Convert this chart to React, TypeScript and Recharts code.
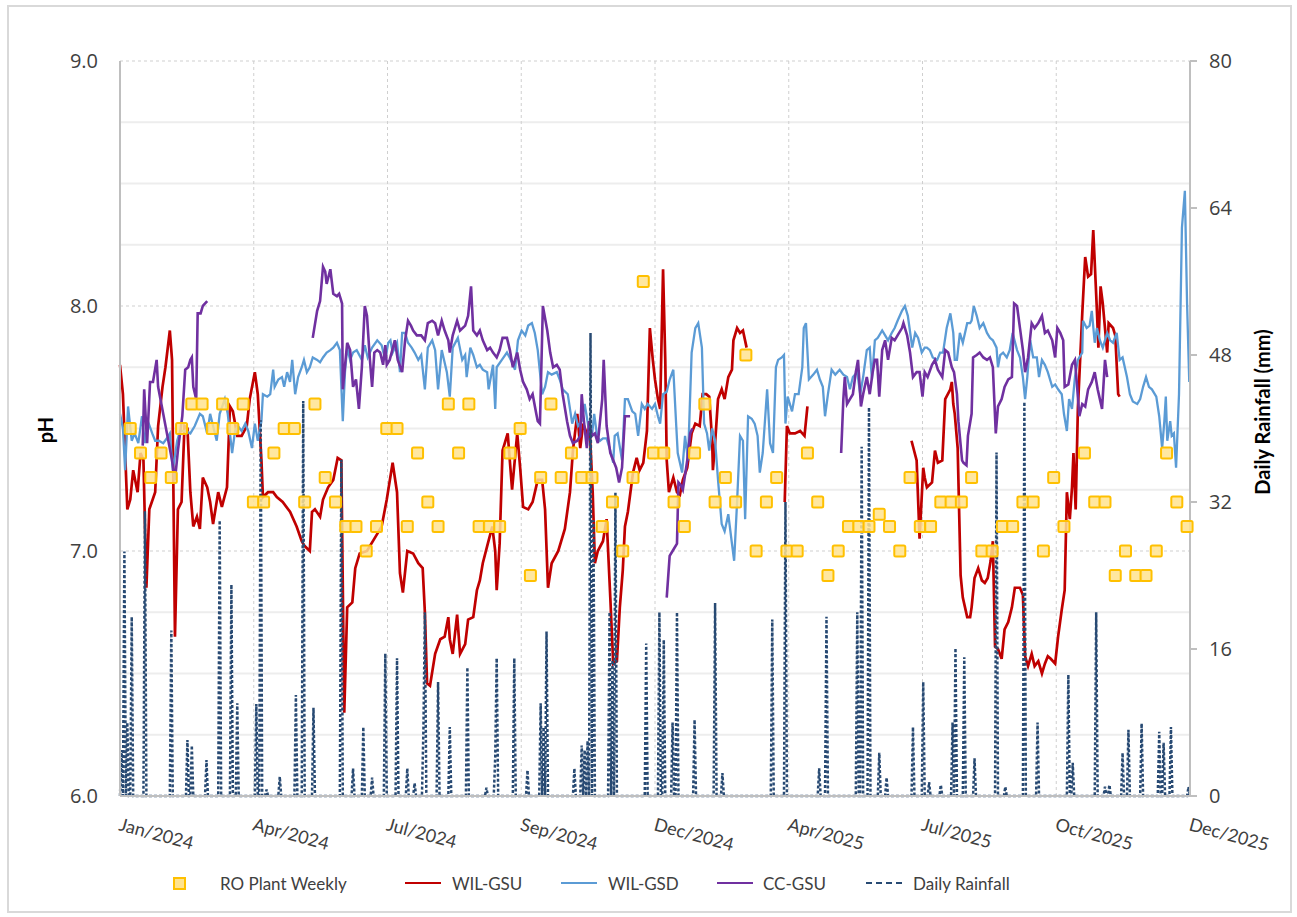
import React from "react";
import { ComposedChart, Line, Scatter, XAxis, YAxis, CartesianGrid } from "recharts";

// x axis is days since 1 Jan 2024
const xTicks = [0, 91.25, 182.5, 273.75, 365, 456.25, 547.5, 638.75, 730];
const xLabels = ["Jan/2024", "Apr/2024", "Jul/2024", "Sep/2024", "Dec/2024", "Apr/2025", "Jul/2025", "Oct/2025", "Dec/2025"];
const phTicks = [6, 7, 8, 9];
const phMinor = [6.25, 6.5, 6.75, 7.25, 7.5, 7.75, 8.25, 8.5, 8.75];
const rainTicks = [0, 16, 32, 48, 64, 80];

// RO plant weekly samples, first on day 7 then every 7 days
const roStartDay = 7;
const roValues: (number | null)[] = [
  7.5, 7.4, 7.3, 7.4, 7.3, 7.5, 7.6, 7.6, 7.5, 7.6,
  7.5, 7.6, 7.2, 7.2, 7.4, 7.5, 7.5, 7.2, 7.6, 7.3,
  7.2, 7.1, 7.1, 7.0, 7.1, 7.5, 7.5, 7.1, 7.4, 7.2,
  7.1, 7.6, 7.4, 7.6, 7.1, 7.1, 7.1, 7.4, 7.5, 6.9,
  7.3, 7.6, 7.3, 7.4, 7.3, 7.3, 7.1, 7.2, 7.0, 7.3,
  8.1, 7.4, 7.4, 7.2, 7.1, 7.4, 7.6, 7.2, 7.3, 7.2,
  7.8, 7.0, 7.2, 7.3, 7.0, 7.0, 7.4, 7.2, 6.9, 7.0,
  7.1, 7.1, 7.1, 7.15, 7.1, 7.0, 7.3, 7.1, 7.1, 7.2,
  7.2, 7.2, 7.3, 7.0, 7.0, 7.1, 7.1, 7.2, 7.2, 7.0,
  7.3, 7.1, null, 7.4, 7.2, 7.2, 6.9, 7.0, 6.9, 6.9,
  7.0, 7.4, 7.2, 7.1,
];

// WIL-GSU  [day, pH]
const wilGsuSeg1: [number, number][] = [
  [0, 7.76], [2, 7.64], [5, 7.17], [7, 7.21], [9, 7.33], [12, 7.24], [14, 7.4], [16, 7.37], [18, 6.85], [20, 7.17],
  [24, 7.24], [26, 7.51], [29, 7.67], [31, 7.75], [34, 7.9], [35.5, 7.78], [37.5, 6.65], [39.5, 7.17], [42, 7.2], [44, 7.51],
  [46, 7.5], [48, 7.24], [50, 7.1], [52.5, 7.14], [54.5, 7.09], [56.5, 7.3], [59.5, 7.26], [61.5, 7.2], [63.5, 7.11], [67, 7.24],
  [69.5, 7.18], [73, 7.26], [75, 7.59], [77, 7.57], [80, 7.47], [83, 7.47], [86.5, 7.51], [88.5, 7.62], [92, 7.73], [94, 7.64],
  [96.5, 7.37], [97.5, 7.22], [101, 7.24], [104.5, 7.24], [107, 7.22], [111, 7.2], [116, 7.16], [120.5, 7.1], [124, 7.04], [126, 7.02],
  [129.5, 7.0], [131, 7.16], [133, 7.17], [136.5, 7.14], [138.5, 7.21], [142, 7.26], [145.5, 7.29], [148.5, 7.38], [151, 7.37], [153, 6.34],
  [155, 6.77], [158.5, 6.79], [160.5, 6.93], [163.5, 6.99], [168.5, 7.0], [175.5, 7.07], [178.5, 7.1], [182, 7.21], [186, 7.36], [189, 7.24],
  [191, 6.91], [193, 6.83], [196, 7.0], [200, 6.99], [203.5, 6.95], [206.5, 6.93], [208, 6.75], [209.5, 6.46], [211.5, 6.45], [215, 6.58],
  [218.5, 6.64], [221.5, 6.65], [224, 6.73], [225, 6.64], [227, 6.58], [230, 6.74], [232, 6.58], [235.5, 6.62], [237.5, 6.72], [241, 6.73],
  [243.5, 6.84], [245.5, 6.88], [247.5, 6.95], [250.5, 7.02], [254, 7.1], [256, 7.0], [257, 6.84], [259, 7.03], [261, 7.41], [264.5, 7.48],
  [267.5, 7.25], [271, 7.48], [273, 7.34], [275, 7.18], [278.5, 7.17], [281.5, 7.2], [285, 7.29], [288, 7.29], [290, 7.17], [292, 6.85],
  [294.5, 6.95], [299, 7.0], [303.5, 7.09], [307, 7.24], [309, 7.41], [312, 7.56], [314, 7.42], [316, 7.52], [318.5, 7.48], [320.5, 7.49],
  [322.5, 7.24], [324, 6.95], [326, 7.0], [329.5, 7.04], [332, 7.13], [334.5, 6.81], [336.5, 6.54], [339, 6.55], [341, 6.77], [343, 6.92],
  [344.5, 7.1], [346.5, 7.16], [350, 7.32], [352.5, 7.38], [354.5, 7.33], [357, 7.36], [359.5, 7.49], [361.5, 7.91], [363.5, 7.78], [365, 7.7],
  [367, 7.62], [368.5, 7.58], [370.5, 8.15], [372, 7.78], [373, 7.37], [374.5, 7.24], [377.5, 7.3], [380, 7.24], [382, 7.23], [384, 7.29],
  [387, 7.34], [390, 7.48], [392.5, 7.52], [395.5, 7.51], [397.5, 7.64], [400, 7.64], [402, 7.63], [404, 7.45], [404.5, 7.33], [406, 7.44],
  [408, 7.62], [410.5, 7.66], [412.5, 7.62], [415, 7.71], [417.5, 7.74], [418.5, 7.86], [421, 7.91], [423, 7.89], [425, 7.9], [427.5, 7.83],
];
const wilGsuSeg2: [number, number][] = [
  [453.5, 7.2], [455, 7.51], [457, 7.48], [460.5, 7.48], [464, 7.49], [467, 7.47], [469, 7.59],
];
const wilGsuSeg3: [number, number][] = [
  [540, 7.45], [543.5, 7.37], [545.5, 7.05], [548, 7.34], [549, 7.3], [550.5, 7.26], [554, 7.28], [556, 7.41], [558, 7.36], [561, 7.37],
  [563, 7.62], [566.5, 7.66], [567.5, 7.69], [568.5, 7.6], [569.5, 7.56], [571.5, 7.42], [573.5, 6.9], [575, 6.81], [578, 6.73], [580, 6.73],
  [581, 6.77], [583, 6.89], [585.5, 6.93], [588, 6.88], [590, 6.87], [592, 6.89], [594, 6.96], [595.5, 7.04], [597, 6.61], [599, 6.6],
  [601.5, 6.56], [603.5, 6.68], [606, 6.71], [608.5, 6.77], [610.5, 6.85], [614, 6.85], [616, 6.82], [617.5, 6.57], [619.5, 6.53], [622, 6.58],
  [624, 6.53], [626.5, 6.55], [629, 6.5], [631, 6.54], [633, 6.57], [635, 6.56], [638, 6.54], [640, 6.65], [642.5, 6.76], [644.5, 6.84],
  [646, 7.24], [648, 7.13], [649.5, 7.26], [650.5, 7.4], [652, 7.17], [653.5, 7.58], [656.5, 7.97], [658.5, 8.2], [660.5, 8.12], [662.5, 8.13],
  [664, 8.31], [666.5, 7.98], [667.5, 7.83], [669, 8.08], [670.5, 8.01], [673.5, 7.81], [674.5, 7.93], [677.5, 7.91], [679, 7.88], [681, 7.64],
  [682, 7.63],
];

// WIL-GSD  [day, pH]
const wilGsd: [number, number][] = [
  [0, 7.56], [2, 7.5], [3.5, 7.33], [5.5, 7.59], [8, 7.45], [10, 7.48], [12.5, 7.44], [15, 7.55], [17, 7.44], [19, 7.53],
  [22, 7.48], [24, 7.45], [26.5, 7.45], [29.5, 7.44], [32, 7.46], [34, 7.48], [36, 7.33], [39, 7.45], [41, 7.49], [44.5, 7.49],
  [48, 7.48], [51, 7.51], [54.5, 7.56], [56.5, 7.55], [59.5, 7.48], [61.5, 7.56], [63.5, 7.51], [66, 7.45], [68, 7.56], [71.5, 7.62],
  [73.5, 7.56], [76.5, 7.4], [78.5, 7.49], [80.5, 7.51], [83, 7.49], [85.5, 7.52], [87.5, 7.49], [90, 7.42], [92, 7.52], [94, 7.45],
  [96.5, 7.53], [97.5, 7.64], [100.5, 7.63], [102.5, 7.64], [104.5, 7.74], [105.5, 7.67], [108, 7.7], [110.5, 7.71], [112, 7.67], [114, 7.73],
  [116, 7.69], [117.5, 7.78], [119.5, 7.64], [121.5, 7.71], [124, 7.75], [125.5, 7.78], [127.5, 7.73], [129.5, 7.75], [131.5, 7.79], [134.5, 7.78],
  [136.5, 7.77], [138.5, 7.79], [141, 7.81], [143.5, 7.82], [145.5, 7.83], [148, 7.85], [150, 7.82], [152, 7.53], [153.5, 7.73], [155, 7.83],
  [157, 7.78], [159, 7.81], [161.5, 7.82], [165, 7.78], [167, 7.84], [169, 7.79], [172, 7.83], [175.5, 7.86], [178.5, 7.84], [181, 7.78],
  [183, 7.85], [184.5, 7.86], [186, 7.81], [189, 7.85], [191, 7.73], [192.5, 7.89], [194.5, 7.89], [196.5, 7.85], [199, 7.83], [201, 7.81],
  [203.5, 7.78], [205.5, 7.8], [208, 7.66], [210, 7.83], [213, 7.86], [215, 7.82], [217, 7.66], [219.5, 7.82], [223, 7.73], [225, 7.63],
  [227, 7.83], [230.5, 7.87], [233.5, 7.78], [235.5, 7.8], [236.5, 7.71], [239, 7.83], [241, 7.8], [243.5, 7.75], [245.5, 7.76], [247.5, 7.74],
  [250.5, 7.73], [251.5, 7.66], [254.5, 7.76], [256, 7.58], [257, 7.75], [260.5, 7.78], [264, 7.81], [267.5, 7.77], [269.5, 7.74], [271.5, 7.86],
  [274, 7.9], [276.5, 7.88], [278.5, 7.92], [281, 7.93], [283, 7.89], [285, 7.82], [288, 7.64], [290, 7.67], [292, 7.73], [294.5, 7.72],
  [298, 7.73], [300, 7.7], [302, 7.66], [305.5, 7.64], [308.5, 7.52], [310.5, 7.56], [312.5, 7.51], [315, 7.53], [317, 7.6], [319.5, 7.51],
  [322, 7.47], [323.5, 7.56], [325.5, 7.47], [327.5, 7.45], [329.5, 7.46], [332, 7.46], [334.5, 7.41], [336.5, 7.36], [337.5, 7.47], [339.5, 7.48],
  [342.5, 7.37], [344.5, 7.62], [346.5, 7.62], [349.5, 7.57], [351.5, 7.56], [353.5, 7.47], [356, 7.6], [358, 7.58], [360, 7.6], [363, 7.58],
  [365, 7.6], [367, 7.55], [368.5, 7.52], [370.5, 7.64], [373, 7.65], [375, 7.7], [377.5, 7.74], [379.5, 7.51], [380.5, 7.4], [383.5, 7.32],
  [385.5, 7.47], [387.5, 7.37], [390, 7.81], [392.5, 7.91], [394.5, 7.93], [397, 7.83], [398.5, 7.52], [400.5, 7.48], [402, 7.41], [404, 7.5],
  [406, 7.45], [408, 7.29], [410.5, 7.11], [412.5, 7.08], [415, 7.15], [417.5, 7.03], [419, 6.96], [421, 7.2], [423, 7.47], [425, 7.45],
  [426.5, 7.13], [428.5, 7.55], [431, 7.54], [433, 7.52], [435, 7.47], [436.5, 7.32], [438.5, 7.4], [441.5, 7.66], [443.5, 7.44], [445.5, 7.4],
  [447.5, 7.75], [449, 7.78], [451.5, 7.79], [453, 7.8], [454, 7.52], [455.5, 7.63], [458.5, 7.57], [460.5, 7.64], [463, 7.64], [465.5, 7.75],
  [466.5, 7.91], [468, 7.93], [470, 7.7], [473, 7.72], [475.5, 7.74], [477.5, 7.7], [479.5, 7.67], [481, 7.55], [483, 7.64], [485.5, 7.74],
  [488, 7.72], [491, 7.74], [493.5, 7.72], [496, 7.71], [498, 7.66], [500, 7.71], [503, 7.73], [505, 7.64], [507, 7.71], [509.5, 7.82],
  [511.5, 7.83], [513, 7.7], [515, 7.86], [517, 7.87], [520, 7.9], [522, 7.88], [524, 7.86], [526.5, 7.89], [528.5, 7.91], [530.5, 7.94],
  [533.5, 7.98], [535.5, 8.0], [537.5, 7.96], [540.5, 7.83], [542.5, 7.89], [544.5, 7.87], [547, 7.81], [549, 7.83], [550.5, 7.83], [552.5, 7.82],
  [554.5, 7.79], [557.5, 7.78], [559.5, 7.81], [561.5, 7.81], [564, 7.91], [566.5, 7.97], [568.5, 7.89], [569.5, 7.78], [571, 7.78], [573, 7.89],
  [575, 7.85], [578, 7.93], [580, 7.93], [581, 7.94], [582.5, 8.0], [584.5, 7.96], [586.5, 7.91], [589, 7.93], [591.5, 7.89], [593.5, 7.87],
  [595.5, 7.86], [598, 7.83], [599, 7.75], [600.5, 7.8], [602.5, 7.81], [605, 7.79], [607, 7.82], [609, 7.89], [612, 7.82], [614, 7.79],
  [616, 7.71], [617.5, 7.62], [619, 7.71], [621, 7.86], [623, 7.79], [625.5, 7.79], [627, 7.71], [629, 7.78], [631, 7.76], [633, 7.73],
  [636, 7.67], [638, 7.68], [640, 7.66], [642.5, 7.64], [644, 7.56], [646, 7.49], [647.5, 7.62], [649.5, 7.58], [651.5, 7.71], [653.5, 7.78],
  [656.5, 7.81], [657, 7.94], [659.5, 7.91], [661.5, 7.92], [663, 7.98], [665, 7.85], [666.5, 7.91], [668.5, 7.86], [670.5, 7.83], [673.5, 7.89],
  [675.5, 7.86], [677.5, 7.85], [680, 7.89], [682, 7.78], [684, 7.79], [687, 7.71], [689, 7.64], [691, 7.61], [694, 7.6], [696, 7.62],
  [698, 7.67], [700, 7.71], [702, 7.67], [704, 7.66], [707, 7.63], [709, 7.55], [711, 7.42], [712.5, 7.53], [713.5, 7.63], [714.5, 7.45],
  [716.5, 7.53], [717.5, 7.47], [719, 7.48], [720.5, 7.34], [722.5, 7.64], [724.5, 8.32], [726.5, 8.47], [728, 8.01], [729.5, 7.69],
];

// CC-GSU  [day, pH]
const ccGsuSeg1: [number, number][] = [
  [15.5, 7.43], [16.5, 7.66], [18.5, 7.44], [20.5, 7.69], [22.5, 7.69], [25, 7.78], [26, 7.67], [35.5, 7.37], [37.5, 7.29], [39.5, 7.41],
  [42.5, 7.55], [44.5, 7.74], [46.5, 7.75], [48, 7.78], [49, 7.79], [50, 7.67], [52, 7.62], [53, 7.97], [55, 7.97], [56.5, 8.0], [59.5, 8.02],
];
const ccGsuSeg2: [number, number][] = [
  [131.5, 7.87], [134.5, 7.98], [136.5, 8.02], [138.5, 8.16], [140, 8.14], [141, 8.09], [143.5, 8.15], [145.5, 8.05], [148, 8.04], [149.5, 8.05],
  [151.5, 8.01], [152, 7.66], [155, 7.85], [157, 7.82], [159, 7.67], [161, 7.7], [163, 7.58], [165, 7.75], [167, 8.0], [168.5, 7.96],
  [170.5, 7.78], [172, 7.67], [173.5, 7.81], [175.5, 7.82], [177.5, 7.81], [179.5, 7.76], [181, 7.84], [182, 7.76], [184, 7.78], [187.5, 7.86],
  [189.5, 7.78], [192.5, 7.73], [194.5, 7.86], [196.5, 7.94], [198.5, 7.92], [200, 7.9], [202.5, 7.88], [205.5, 7.88], [208, 7.86], [210, 7.93],
  [213, 7.94], [215, 7.93], [217, 7.88], [219.5, 7.94], [221.5, 7.9], [224, 7.86], [225, 7.81], [227, 7.88], [230, 7.94], [232, 7.9],
  [235.5, 7.92], [237.5, 7.96], [239.5, 8.08], [241, 7.9], [243.5, 7.88], [245.5, 7.9], [247.5, 7.86], [250.5, 7.82], [252.5, 7.83], [254.5, 7.81],
  [257, 7.79], [259, 7.82], [261, 7.87], [264, 7.87], [266, 7.82], [268, 7.75], [271, 7.81], [273, 7.74], [275, 7.69], [277.5, 7.66],
  [279.5, 7.62], [281.5, 7.64], [284, 7.56], [285, 7.53], [286.5, 7.52], [288.5, 8.0], [291.5, 7.9], [293.5, 7.81], [295.5, 7.75], [298, 7.76],
  [300, 7.74], [302, 7.64], [305, 7.53], [307, 7.47], [309, 7.44], [312, 7.45], [314, 7.47], [315, 7.64], [316.5, 7.53], [318.5, 7.42],
  [320, 7.53], [322, 7.47], [324, 7.48], [326, 7.44], [329, 7.62], [330, 7.78], [332, 7.51], [334.5, 7.4], [336.5, 7.37], [338.5, 7.34],
  [340.5, 7.28], [342.5, 7.34], [344.5, 7.55], [348, 7.55],
];
const ccGsuSeg3: [number, number][] = [
  [373, 6.81], [375, 6.98], [377, 7.0], [380, 7.03], [381, 7.28], [382.5, 7.27], [384, 7.25], [387, 7.37], [389, 7.48], [390.5, 7.5],
];
const ccGsuSeg4: [number, number][] = [
  [492, 7.4], [493.5, 7.62], [494.5, 7.71], [496, 7.6], [498, 7.62], [500, 7.64], [502, 7.73], [503.5, 7.78], [505.5, 7.59], [507, 7.64],
  [509.5, 7.71], [511.5, 7.64], [513.5, 7.73], [515, 7.78], [516.5, 7.78], [518, 7.63], [520, 7.82], [522, 7.86], [524, 7.78], [526.5, 7.87],
  [528.5, 7.86], [530.5, 7.88], [533.5, 7.91], [534.5, 7.93], [537, 7.88], [539, 7.81], [541, 7.71], [543.5, 7.73], [545.5, 7.73], [547.5, 7.63],
  [549, 7.73], [551, 7.71], [554, 7.76], [556, 7.78], [558, 7.74], [561, 7.71], [563, 7.82], [565, 7.81], [567.5, 7.75], [569, 7.73],
  [571, 7.64], [572, 7.53], [574.5, 7.37], [575.5, 7.36], [577.5, 7.35], [578.5, 7.47], [581, 7.56], [582, 7.79], [584.5, 7.8], [586.5, 7.81],
  [589, 7.79], [591.5, 7.78], [593.5, 7.79], [595.5, 7.75], [597.5, 7.48], [599, 7.59], [601.5, 7.62], [603.5, 7.67], [606, 7.7], [608.5, 7.71],
  [610, 8.01], [612, 8.0], [614, 7.91], [616, 7.82], [617.5, 7.73], [619.5, 7.79], [622, 7.93], [624, 7.91], [626.5, 7.93], [629, 7.96],
  [631, 7.89], [633, 7.9], [636, 7.86], [638, 7.79], [639.5, 7.91], [641.5, 7.89], [643.5, 7.86], [644.5, 7.67], [647, 7.68], [649.5, 7.76],
  [651.5, 7.78], [653, 7.67], [654.5, 7.55], [656.5, 7.6], [658.5, 7.59], [660.5, 7.66], [663, 7.69], [665, 7.73], [667, 7.66], [670, 7.58],
  [672, 7.78], [673.5, 7.71],
];

// daily rainfall: days with rain [day, mm]; every other day is 0
const rainEvents: [number, number][] = [
  [1, 5], [3, 26.6], [5, 8], [8, 19.5], [17, 31], [35, 18], [46, 6.1], [49, 5.5], [59, 3.9], [68, 30],
  [76, 23], [80, 10.1], [93, 10], [96, 40.9], [100, 0.7], [109, 2.1], [120, 11], [125, 43], [132, 9.6], [151, 36.6],
  [159, 3], [166, 7.5], [172, 2], [181, 15.5], [189, 15], [196, 3], [201, 1.4], [207, 7.2], [208, 20], [217, 12.4],
  [225, 7.5], [237, 14], [250, 0.9], [256, 4.3], [257, 15], [269, 15], [278, 2.8], [287, 10.1], [289, 7.5], [291, 17.9],
  [310, 3], [315, 5.5], [317, 5], [319, 6], [321, 50.4], [323, 30], [334, 20], [336, 14.8], [338, 33], [359, 16.6],
  [368, 20], [371, 17], [377, 8], [380, 20], [392, 8.3], [406, 21], [411, 2.5], [445, 19.2], [454, 32], [477, 3],
  [482, 19.5], [503, 20], [506, 38], [511, 42.3], [518, 4.7], [523, 2], [541, 7.5], [548, 12.4], [552, 1.5], [560, 1.2],
  [568, 8], [570, 16.1], [576, 15.1], [583, 4.1], [598, 37.4], [604, 1], [617, 42.9], [626, 8], [647, 13.2], [650, 3.6],
  [666, 20], [672, 1], [675, 1.2], [684, 4.7], [688, 7.2], [697, 7.9], [709, 7], [712, 5.8], [717, 7.5], [729, 1],
];

const joinSegments = (segs: [number, number][][]) => {
  const out: { day: number; v: number | null }[] = [];
  segs.forEach((seg, i) => {
    if (i > 0) {
      const prev = segs[i - 1];
      out.push({ day: (prev[prev.length - 1][0] + seg[0][0]) / 2, v: null });
    }
    seg.forEach(([day, v]) => out.push({ day, v }));
  });
  return out;
};

const wilGsuData = joinSegments([wilGsuSeg1, wilGsuSeg2, wilGsuSeg3]);
const wilGsdData = joinSegments([wilGsd]);
const ccGsuData = joinSegments([ccGsuSeg1, ccGsuSeg2, ccGsuSeg3, ccGsuSeg4]);
const roData = roValues
  .map((v, i) => ({ day: roStartDay + 7 * i, v }))
  .filter((d) => d.v !== null);
const rainMap = new Map(rainEvents);
const rainData = Array.from({ length: 731 }, (_, d) => ({ day: d, mm: rainMap.get(d) ?? 0 }));

const RED = "#C00000";
const BLUE = "#5B9BD5";
const PURPLE = "#7030A0";
const RAIN = "#284A73";
const NUM_FONT = "'Open Sans', 'DejaVu Sans', sans-serif";
const TXT_FONT = "Lato, 'Open Sans', sans-serif";

const RoSquare = (props: any) => {
  const { cx, cy } = props;
  if (cx == null || cy == null) return null;
  return (
    <rect x={cx - 5.5} y={cy - 5.5} width={11} height={11} rx={1.5}
      fill="#FFE38F" fillOpacity={0.85} stroke="#FFC000" strokeWidth={2} />
  );
};

const DateTick = (props: any) => {
  const { x, y, payload } = props;
  const idx = xTicks.indexOf(payload.value);
  const tx = x - 2;
  const ty = y + 26;
  return (
    <text x={tx} y={ty} transform={`rotate(15, ${tx}, ${ty})`} textAnchor="start"
      fontSize={18} fontFamily={TXT_FONT} fill="#404040">
      {xLabels[idx]}
    </text>
  );
};

const legendItem = (left: number, label: string, marker: React.ReactNode) => (
  <div style={{ position: "absolute", left, top: 872, height: 22, display: "flex", alignItems: "center" }}>
    {marker}
    <span style={{ fontFamily: TXT_FONT, fontSize: 17, color: "#404040", whiteSpace: "nowrap" }}>{label}</span>
  </div>
);

export default function App() {
  return (
    <div style={{ position: "absolute", left: 0, top: 0, width: 1297, height: 917, background: "#fff" }}>
      <div style={{ position: "absolute", left: 7, top: 5, width: 1281, height: 904, border: "2px solid #d9d9d9" }} />
      <div style={{ position: "absolute", left: 0, top: 0 }}>
        <ComposedChart width={1297} height={917} margin={{ top: 61, right: 47, bottom: 91, left: 60 }}>
          <CartesianGrid horizontalValues={phMinor} vertical={false} stroke="#ededed" strokeWidth={2} />
          <CartesianGrid horizontalValues={phTicks} verticalValues={xTicks} stroke="#cfcfcf" strokeDasharray="3 3" />
          <XAxis type="number" dataKey="day" domain={[0, 730]} ticks={xTicks} interval={0}
            axisLine={{ stroke: "#bfbfbf", strokeWidth: 2 }} tickLine={false} tick={<DateTick />} height={30} />
          <YAxis domain={[6, 9]} ticks={phTicks} interval={0} width={60} allowDataOverflow
            tickFormatter={(v: number) => v.toFixed(1)} axisLine={{ stroke: "#bfbfbf", strokeWidth: 2 }}
            tickLine={false} tickMargin={16} tick={{ fontSize: 20, fill: "#404040", fontFamily: NUM_FONT }} />
          <YAxis yAxisId="r" orientation="right" domain={[0, 80]} ticks={rainTicks} interval={0} width={60}
            axisLine={{ stroke: "#bfbfbf", strokeWidth: 2 }} tickLine={{ stroke: "#bfbfbf", strokeWidth: 2 }}
            tickSize={7} tickMargin={12} tick={{ fontSize: 20, fill: "#404040", fontFamily: NUM_FONT }} />
          <Scatter data={roData} dataKey="v" shape={<RoSquare />} isAnimationActive={false} />
          <Line data={wilGsuData} dataKey="v" stroke={RED} strokeWidth={2.7} dot={false} type="linear" isAnimationActive={false} />
          <Line data={wilGsdData} dataKey="v" stroke={BLUE} strokeWidth={2.3} dot={false} type="linear" isAnimationActive={false} />
          <Line data={ccGsuData} dataKey="v" stroke={PURPLE} strokeWidth={2.6} dot={false} type="linear" isAnimationActive={false} />
          <Line data={rainData} yAxisId="r" dataKey="mm" stroke={RAIN} strokeWidth={2.5} strokeDasharray="3 2" dot={false}
            type="linear" isAnimationActive={false} />
        </ComposedChart>
      </div>
      <div style={{ position: "absolute", left: 45, top: 430, transform: "translate(-50%, -50%) rotate(-90deg)",
        fontFamily: TXT_FONT, fontWeight: 700, fontSize: 20, color: "#000" }}>pH</div>
      <div style={{ position: "absolute", left: 1262, top: 412, transform: "translate(-50%, -50%) rotate(-90deg)",
        fontFamily: TXT_FONT, fontWeight: 700, fontSize: 20, color: "#000", whiteSpace: "nowrap" }}>Daily Rainfall (mm)</div>
      {legendItem(173, "RO Plant Weekly",
        <span style={{ display: "inline-block", width: 9, height: 9, background: "#FFE38F", border: "2px solid #FFC000", marginRight: 34 }} />)}
      {legendItem(405, "WIL-GSU",
        <span style={{ display: "inline-block", width: 36, height: 0, borderTop: `2.5px solid ${RED}`, marginRight: 11 }} />)}
      {legendItem(561, "WIL-GSD",
        <span style={{ display: "inline-block", width: 36, height: 0, borderTop: `2.5px solid ${BLUE}`, marginRight: 11 }} />)}
      {legendItem(717, "CC-GSU",
        <span style={{ display: "inline-block", width: 36, height: 0, borderTop: `2.5px solid ${PURPLE}`, marginRight: 10 }} />)}
      {legendItem(866, "Daily Rainfall",
        <span style={{ display: "inline-block", width: 36, height: 0, borderTop: `2px dashed ${RAIN}`, marginRight: 11 }} />)}
    </div>
  );
}
